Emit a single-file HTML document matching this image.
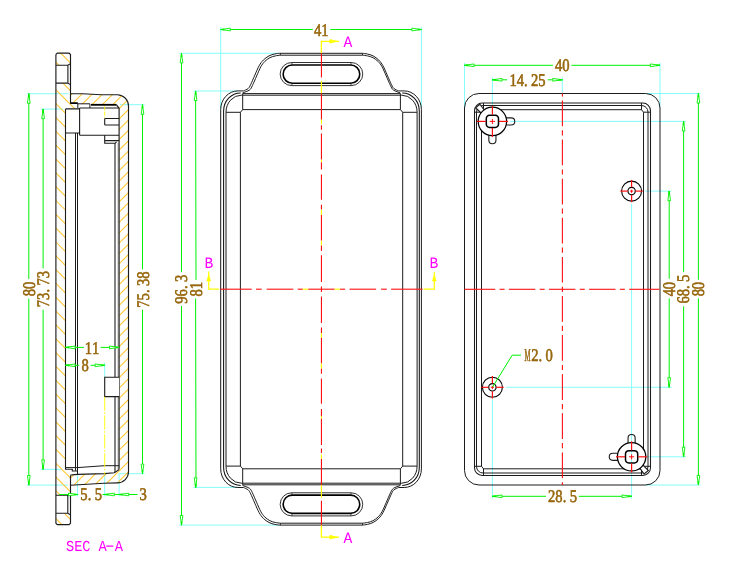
<!DOCTYPE html>
<html><head><meta charset="utf-8"><title>Enclosure drawing</title>
<style>
html,body{margin:0;padding:0;background:#ffffff;}
body{width:750px;height:582px;overflow:hidden;font-family:"Liberation Serif",serif;}
svg{display:block;will-change:transform;}
text{white-space:pre;}
</style></head><body>
<svg width="750" height="582" viewBox="0 0 750 582" shape-rendering="geometricPrecision">
<rect width="750" height="582" fill="#ffffff"/>
<line x1="220.7" y1="27" x2="220.7" y2="109.5" stroke="#86fcfc" stroke-width="1" />
<line x1="421.4" y1="27" x2="421.4" y2="107" stroke="#86fcfc" stroke-width="1" />
<line x1="179" y1="53.3" x2="279" y2="53.3" stroke="#86fcfc" stroke-width="1" />
<line x1="179" y1="525.1" x2="279" y2="525.1" stroke="#86fcfc" stroke-width="1" />
<line x1="193.5" y1="91" x2="238" y2="91" stroke="#86fcfc" stroke-width="1" />
<line x1="193.5" y1="487.4" x2="238" y2="487.4" stroke="#86fcfc" stroke-width="1" />
<g transform="translate(321.05,289.2) scale(1,1) translate(-321.05,-289.2)">
<path d="M220.7,289.2 V109.5 A17.2,18.6 0 0 1 237.9,90.9 H243.5" stroke="#1c1c1c" stroke-width="1" fill="none" />
<path d="M243.5,90.9 C244.28,90.5 247.02,89.53 248.2,88.5 C249.38,87.47 249.5,86.92 250.6,84.7 C251.7,82.48 253.38,78.35 254.8,75.2 C256.22,72.05 257.68,68.32 259.1,65.8 C260.52,63.28 261.65,61.75 263.3,60.1 C264.95,58.45 267.1,56.92 269,55.9 C270.9,54.88 272.93,54.43 274.7,54 C276.47,53.57 278.78,53.42 279.6,53.3 H321.05" stroke="#1c1c1c" stroke-width="1" fill="none" />
</g>
<g transform="translate(321.05,289.2) scale(-1,1) translate(-321.05,-289.2)">
<path d="M220.7,289.2 V109.5 A17.2,18.6 0 0 1 237.9,90.9 H243.5" stroke="#1c1c1c" stroke-width="1" fill="none" />
<path d="M243.5,90.9 C244.28,90.5 247.02,89.53 248.2,88.5 C249.38,87.47 249.5,86.92 250.6,84.7 C251.7,82.48 253.38,78.35 254.8,75.2 C256.22,72.05 257.68,68.32 259.1,65.8 C260.52,63.28 261.65,61.75 263.3,60.1 C264.95,58.45 267.1,56.92 269,55.9 C270.9,54.88 272.93,54.43 274.7,54 C276.47,53.57 278.78,53.42 279.6,53.3 H321.05" stroke="#1c1c1c" stroke-width="1" fill="none" />
</g>
<g transform="translate(321.05,289.2) scale(1,-1) translate(-321.05,-289.2)">
<path d="M220.7,289.2 V109.5 A17.2,18.6 0 0 1 237.9,90.9 H243.5" stroke="#1c1c1c" stroke-width="1" fill="none" />
<path d="M243.5,90.9 C244.28,90.5 247.02,89.53 248.2,88.5 C249.38,87.47 249.5,86.92 250.6,84.7 C251.7,82.48 253.38,78.35 254.8,75.2 C256.22,72.05 257.68,68.32 259.1,65.8 C260.52,63.28 261.65,61.75 263.3,60.1 C264.95,58.45 267.1,56.92 269,55.9 C270.9,54.88 272.93,54.43 274.7,54 C276.47,53.57 278.78,53.42 279.6,53.3 H321.05" stroke="#1c1c1c" stroke-width="1" fill="none" />
</g>
<g transform="translate(321.05,289.2) scale(-1,-1) translate(-321.05,-289.2)">
<path d="M220.7,289.2 V109.5 A17.2,18.6 0 0 1 237.9,90.9 H243.5" stroke="#1c1c1c" stroke-width="1" fill="none" />
<path d="M243.5,90.9 C244.28,90.5 247.02,89.53 248.2,88.5 C249.38,87.47 249.5,86.92 250.6,84.7 C251.7,82.48 253.38,78.35 254.8,75.2 C256.22,72.05 257.68,68.32 259.1,65.8 C260.52,63.28 261.65,61.75 263.3,60.1 C264.95,58.45 267.1,56.92 269,55.9 C270.9,54.88 272.93,54.43 274.7,54 C276.47,53.57 278.78,53.42 279.6,53.3 H321.05" stroke="#1c1c1c" stroke-width="1" fill="none" />
</g>
<g transform="translate(321.45,289.2) scale(1,1) translate(-321.45,-289.2)">
<path d="M223.6,289.2 V111 A17.1,18.1 0 0 1 240.7,92.9" stroke="#111" stroke-width="1.05" fill="none" />
<path d="M242.6,92.9 C243.75,92.42 247.88,91.22 249.52,90.01 C251.15,88.79 251.21,87.92 252.39,85.59 C253.58,83.26 255.22,79.15 256.62,76.02 C258.03,72.89 259.49,69.2 260.84,66.78 C262.19,64.36 263.2,63.03 264.71,61.51 C266.23,59.99 268.2,58.59 269.94,57.66 C271.69,56.73 273.45,56.35 275.18,55.94 C276.9,55.53 279.45,55.32 280.3,55.2 H321.45" stroke="#1c1c1c" stroke-width="1" fill="none" />
<line x1="280.3" y1="53.3" x2="280.3" y2="55.2" stroke="#1c1c1c" stroke-width="1" />
<path d="M321.45,62.5 H291.7 A11.55,11.55 0 0 0 291.7,85.6 H321.45" stroke="#1c1c1c" stroke-width="0.9" fill="none" />
<path d="M321.45,65 H292.3 A9.15,9.15 0 0 0 292.3,83.3 H321.45" stroke="#000" stroke-width="1.6" fill="none" />
<line x1="291.9" y1="62.5" x2="291.9" y2="65" stroke="#1c1c1c" stroke-width="0.8" />
<line x1="291.9" y1="83.3" x2="291.9" y2="85.6" stroke="#1c1c1c" stroke-width="0.8" />
</g>
<g transform="translate(321.45,289.2) scale(-1,1) translate(-321.45,-289.2)">
<path d="M223.6,289.2 V111 A17.1,18.1 0 0 1 240.7,92.9" stroke="#111" stroke-width="1.05" fill="none" />
<path d="M242.6,92.9 C243.75,92.42 247.88,91.22 249.52,90.01 C251.15,88.79 251.21,87.92 252.39,85.59 C253.58,83.26 255.22,79.15 256.62,76.02 C258.03,72.89 259.49,69.2 260.84,66.78 C262.19,64.36 263.2,63.03 264.71,61.51 C266.23,59.99 268.2,58.59 269.94,57.66 C271.69,56.73 273.45,56.35 275.18,55.94 C276.9,55.53 279.45,55.32 280.3,55.2 H321.45" stroke="#1c1c1c" stroke-width="1" fill="none" />
<line x1="280.3" y1="53.3" x2="280.3" y2="55.2" stroke="#1c1c1c" stroke-width="1" />
<path d="M321.45,62.5 H291.7 A11.55,11.55 0 0 0 291.7,85.6 H321.45" stroke="#1c1c1c" stroke-width="0.9" fill="none" />
<path d="M321.45,65 H292.3 A9.15,9.15 0 0 0 292.3,83.3 H321.45" stroke="#000" stroke-width="1.6" fill="none" />
<line x1="291.9" y1="62.5" x2="291.9" y2="65" stroke="#1c1c1c" stroke-width="0.8" />
<line x1="291.9" y1="83.3" x2="291.9" y2="85.6" stroke="#1c1c1c" stroke-width="0.8" />
</g>
<g transform="translate(321.45,289.2) scale(1,-1) translate(-321.45,-289.2)">
<path d="M223.6,289.2 V111 A17.1,18.1 0 0 1 240.7,92.9" stroke="#111" stroke-width="1.05" fill="none" />
<path d="M242.6,92.9 C243.75,92.42 247.88,91.22 249.52,90.01 C251.15,88.79 251.21,87.92 252.39,85.59 C253.58,83.26 255.22,79.15 256.62,76.02 C258.03,72.89 259.49,69.2 260.84,66.78 C262.19,64.36 263.2,63.03 264.71,61.51 C266.23,59.99 268.2,58.59 269.94,57.66 C271.69,56.73 273.45,56.35 275.18,55.94 C276.9,55.53 279.45,55.32 280.3,55.2 H321.45" stroke="#1c1c1c" stroke-width="1" fill="none" />
<line x1="280.3" y1="53.3" x2="280.3" y2="55.2" stroke="#1c1c1c" stroke-width="1" />
<path d="M321.45,62.5 H291.7 A11.55,11.55 0 0 0 291.7,85.6 H321.45" stroke="#1c1c1c" stroke-width="0.9" fill="none" />
<path d="M321.45,65 H292.3 A9.15,9.15 0 0 0 292.3,83.3 H321.45" stroke="#000" stroke-width="1.6" fill="none" />
<line x1="291.9" y1="62.5" x2="291.9" y2="65" stroke="#1c1c1c" stroke-width="0.8" />
<line x1="291.9" y1="83.3" x2="291.9" y2="85.6" stroke="#1c1c1c" stroke-width="0.8" />
</g>
<g transform="translate(321.45,289.2) scale(-1,-1) translate(-321.45,-289.2)">
<path d="M223.6,289.2 V111 A17.1,18.1 0 0 1 240.7,92.9" stroke="#111" stroke-width="1.05" fill="none" />
<path d="M242.6,92.9 C243.75,92.42 247.88,91.22 249.52,90.01 C251.15,88.79 251.21,87.92 252.39,85.59 C253.58,83.26 255.22,79.15 256.62,76.02 C258.03,72.89 259.49,69.2 260.84,66.78 C262.19,64.36 263.2,63.03 264.71,61.51 C266.23,59.99 268.2,58.59 269.94,57.66 C271.69,56.73 273.45,56.35 275.18,55.94 C276.9,55.53 279.45,55.32 280.3,55.2 H321.45" stroke="#1c1c1c" stroke-width="1" fill="none" />
<line x1="280.3" y1="53.3" x2="280.3" y2="55.2" stroke="#1c1c1c" stroke-width="1" />
<path d="M321.45,62.5 H291.7 A11.55,11.55 0 0 0 291.7,85.6 H321.45" stroke="#1c1c1c" stroke-width="0.9" fill="none" />
<path d="M321.45,65 H292.3 A9.15,9.15 0 0 0 292.3,83.3 H321.45" stroke="#000" stroke-width="1.6" fill="none" />
<line x1="291.9" y1="62.5" x2="291.9" y2="65" stroke="#1c1c1c" stroke-width="0.8" />
<line x1="291.9" y1="83.3" x2="291.9" y2="85.6" stroke="#1c1c1c" stroke-width="0.8" />
</g>
<g transform="translate(321.55,289.2) scale(1,1) translate(-321.55,-289.2)">
<path d="M226,289.2 V112.3 A15.3,17.1 0 0 1 241.3,95.2 H321.55" stroke="#1c1c1c" stroke-width="1" fill="none" />
<line x1="242.7" y1="93.6" x2="321.55" y2="93.6" stroke="#1c1c1c" stroke-width="1" />
<path d="M226,112.3 H240.4 V289.2 M240.4,112.3 L242.7,109.6 H321.55 M242.7,93.6 V109.6" stroke="#1c1c1c" stroke-width="1" fill="none" />
</g>
<g transform="translate(321.55,289.2) scale(-1,1) translate(-321.55,-289.2)">
<path d="M226,289.2 V112.3 A15.3,17.1 0 0 1 241.3,95.2 H321.55" stroke="#1c1c1c" stroke-width="1" fill="none" />
<line x1="242.7" y1="93.6" x2="321.55" y2="93.6" stroke="#1c1c1c" stroke-width="1" />
<path d="M226,112.3 H240.4 V289.2 M240.4,112.3 L242.7,109.6 H321.55 M242.7,93.6 V109.6" stroke="#1c1c1c" stroke-width="1" fill="none" />
</g>
<g transform="translate(321.55,289.2) scale(1,-1) translate(-321.55,-289.2)">
<path d="M226,289.2 V112.3 A15.3,17.1 0 0 1 241.3,95.2 H321.55" stroke="#1c1c1c" stroke-width="1" fill="none" />
<line x1="242.7" y1="93.6" x2="321.55" y2="93.6" stroke="#1c1c1c" stroke-width="1" />
<path d="M226,112.3 H240.4 V289.2 M240.4,112.3 L242.7,109.6 H321.55 M242.7,93.6 V109.6" stroke="#1c1c1c" stroke-width="1" fill="none" />
</g>
<g transform="translate(321.55,289.2) scale(-1,-1) translate(-321.55,-289.2)">
<path d="M226,289.2 V112.3 A15.3,17.1 0 0 1 241.3,95.2 H321.55" stroke="#1c1c1c" stroke-width="1" fill="none" />
<line x1="242.7" y1="93.6" x2="321.55" y2="93.6" stroke="#1c1c1c" stroke-width="1" />
<path d="M226,112.3 H240.4 V289.2 M240.4,112.3 L242.7,109.6 H321.55 M242.7,93.6 V109.6" stroke="#1c1c1c" stroke-width="1" fill="none" />
</g>
<line x1="321.45" y1="41.3" x2="321.45" y2="52.9" stroke="#ffff00" stroke-width="1.15" />
<line x1="321.45" y1="537.1" x2="321.45" y2="525.5" stroke="#ffff00" stroke-width="1.15" />
<line x1="321.45" y1="80.8" x2="321.45" y2="93.3" stroke="#ffff00" stroke-width="1.15" />
<line x1="321.45" y1="497.6" x2="321.45" y2="485.1" stroke="#ffff00" stroke-width="1.15" />
<line x1="321.45" y1="119.4" x2="321.45" y2="123.9" stroke="#ffff00" stroke-width="1.15" />
<line x1="321.45" y1="459" x2="321.45" y2="454.5" stroke="#ffff00" stroke-width="1.15" />
<line x1="321.45" y1="159.6" x2="321.45" y2="162.2" stroke="#ffff00" stroke-width="1.15" />
<line x1="321.45" y1="418.8" x2="321.45" y2="416.2" stroke="#ffff00" stroke-width="1.15" />
<line x1="321.45" y1="209.6" x2="321.45" y2="215.1" stroke="#ffff00" stroke-width="1.15" />
<line x1="321.45" y1="368.8" x2="321.45" y2="363.3" stroke="#ffff00" stroke-width="1.15" />
<line x1="321.45" y1="240.6" x2="321.45" y2="245.5" stroke="#ffff00" stroke-width="1.15" />
<line x1="321.45" y1="337.8" x2="321.45" y2="332.9" stroke="#ffff00" stroke-width="1.15" />
<line x1="321.45" y1="52.9" x2="321.45" y2="77.6" stroke="#ff1010" stroke-width="1.1" />
<line x1="321.45" y1="525.5" x2="321.45" y2="500.8" stroke="#ff1010" stroke-width="1.1" />
<line x1="321.45" y1="93.3" x2="321.45" y2="119.4" stroke="#ff1010" stroke-width="1.1" />
<line x1="321.45" y1="485.1" x2="321.45" y2="459" stroke="#ff1010" stroke-width="1.1" />
<line x1="321.45" y1="125.3" x2="321.45" y2="129.8" stroke="#ff1010" stroke-width="1.1" />
<line x1="321.45" y1="453.1" x2="321.45" y2="448.6" stroke="#ff1010" stroke-width="1.1" />
<line x1="321.45" y1="133.5" x2="321.45" y2="159.6" stroke="#ff1010" stroke-width="1.1" />
<line x1="321.45" y1="444.9" x2="321.45" y2="418.8" stroke="#ff1010" stroke-width="1.1" />
<line x1="321.45" y1="162.2" x2="321.45" y2="169.4" stroke="#ff1010" stroke-width="1.1" />
<line x1="321.45" y1="416.2" x2="321.45" y2="409" stroke="#ff1010" stroke-width="1.1" />
<line x1="321.45" y1="174.6" x2="321.45" y2="199.8" stroke="#ff1010" stroke-width="1.1" />
<line x1="321.45" y1="403.8" x2="321.45" y2="378.6" stroke="#ff1010" stroke-width="1.1" />
<line x1="321.45" y1="204.7" x2="321.45" y2="209.6" stroke="#ff1010" stroke-width="1.1" />
<line x1="321.45" y1="373.7" x2="321.45" y2="368.8" stroke="#ff1010" stroke-width="1.1" />
<line x1="321.45" y1="215.1" x2="321.45" y2="240.6" stroke="#ff1010" stroke-width="1.1" />
<line x1="321.45" y1="363.3" x2="321.45" y2="337.8" stroke="#ff1010" stroke-width="1.1" />
<line x1="321.45" y1="245.5" x2="321.45" y2="251" stroke="#ff1010" stroke-width="1.1" />
<line x1="321.45" y1="332.9" x2="321.45" y2="327.4" stroke="#ff1010" stroke-width="1.1" />
<line x1="321.45" y1="255.3" x2="321.45" y2="282" stroke="#ff1010" stroke-width="1.1" />
<line x1="321.45" y1="323.1" x2="321.45" y2="296.4" stroke="#ff1010" stroke-width="1.1" />
<line x1="321.45" y1="286.5" x2="321.45" y2="289.3" stroke="#ff1010" stroke-width="1.1" />
<line x1="321.45" y1="291.9" x2="321.45" y2="289.1" stroke="#ff1010" stroke-width="1.1" />
<line x1="302.7" y1="289.2" x2="308.3" y2="289.2" stroke="#ffff00" stroke-width="1.15" />
<line x1="340.1" y1="289.2" x2="334.5" y2="289.2" stroke="#ffff00" stroke-width="1.15" />
<line x1="220.2" y1="289.2" x2="251.7" y2="289.2" stroke="#ff1010" stroke-width="1.1" />
<line x1="422.6" y1="289.2" x2="391.1" y2="289.2" stroke="#ff1010" stroke-width="1.1" />
<line x1="256" y1="289.2" x2="261.7" y2="289.2" stroke="#ff1010" stroke-width="1.1" />
<line x1="386.8" y1="289.2" x2="381.1" y2="289.2" stroke="#ff1010" stroke-width="1.1" />
<line x1="266.7" y1="289.2" x2="293.3" y2="289.2" stroke="#ff1010" stroke-width="1.1" />
<line x1="376.1" y1="289.2" x2="349.5" y2="289.2" stroke="#ff1010" stroke-width="1.1" />
<line x1="297.7" y1="289.2" x2="302.7" y2="289.2" stroke="#ff1010" stroke-width="1.1" />
<line x1="345.1" y1="289.2" x2="340.1" y2="289.2" stroke="#ff1010" stroke-width="1.1" />
<line x1="308.3" y1="289.2" x2="321.3" y2="289.2" stroke="#ff1010" stroke-width="1.1" />
<line x1="334.5" y1="289.2" x2="321.5" y2="289.2" stroke="#ff1010" stroke-width="1.1" />
<path d="M321.45,53 V41.3 H339" stroke="#ffff00" stroke-width="1.2" fill="none" />
<path d="M329.8,39.4 L337.3,41.3 L329.8,43.2 Z" stroke="#ffff00" stroke-width="0.6" fill="#ffff00" />
<path d="M321.45,525.3 V537.2 H339" stroke="#ffff00" stroke-width="1.2" fill="none" />
<path d="M329.8,535.3 L337.3,537.2 L329.8,539.1 Z" stroke="#ffff00" stroke-width="0.6" fill="#ffff00" />
<path d="M218.8,289.2 H208.7 V271.5" stroke="#ffff00" stroke-width="1.2" fill="none" />
<path d="M206.8,281 L208.7,275 L210.6,281 Z" stroke="#ffff00" stroke-width="0.6" fill="#ffff00" />
<path d="M423.6,289.2 H434.3 V271.9" stroke="#ffff00" stroke-width="1.2" fill="none" />
<path d="M432.4,281 L434.3,275 L436.2,281 Z" stroke="#ffff00" stroke-width="0.6" fill="#ffff00" />
<line x1="220.7" y1="29.5" x2="312.7" y2="29.5" stroke="#00f200" stroke-width="1" />
<line x1="330.3" y1="29.5" x2="421.4" y2="29.5" stroke="#00f200" stroke-width="1" />
<path d="M220.7,29.5 L230.3,30.85 L230.3,28.15 Z" stroke="#00f200" stroke-width="0.9" fill="#fff" stroke-linejoin="round"/>
<path d="M220.7,29.5 L223.96,29.96 L223.96,29.04 Z" stroke="#00f200" stroke-width="0.7" fill="#00f200" />
<path d="M421.4,29.5 L411.8,28.15 L411.8,30.85 Z" stroke="#00f200" stroke-width="0.9" fill="#fff" stroke-linejoin="round"/>
<path d="M421.4,29.5 L418.14,29.04 L418.14,29.96 Z" stroke="#00f200" stroke-width="0.7" fill="#00f200" />
<g transform="translate(321.2,35.7)" font-family="Liberation Serif" font-size="17.8" fill="#96650a" stroke="#96650a" stroke-width="0.6" text-anchor="middle" text-rendering="geometricPrecision">
<text transform="translate(-3.6,0) scale(0.82,1)">4</text>
<text transform="translate(3.6,0) scale(0.82,1)">1</text>
</g>
<line x1="181.5" y1="53.3" x2="181.5" y2="272.2" stroke="#00f200" stroke-width="1" />
<line x1="181.5" y1="306" x2="181.5" y2="525.1" stroke="#00f200" stroke-width="1" />
<path d="M181.5,53.3 L180.15,62.9 L182.85,62.9 Z" stroke="#00f200" stroke-width="0.9" fill="#fff" stroke-linejoin="round"/>
<path d="M181.5,53.3 L181.04,56.56 L181.96,56.56 Z" stroke="#00f200" stroke-width="0.7" fill="#00f200" />
<path d="M181.5,525.1 L182.85,515.5 L180.15,515.5 Z" stroke="#00f200" stroke-width="0.9" fill="#fff" stroke-linejoin="round"/>
<path d="M181.5,525.1 L181.96,521.84 L181.04,521.84 Z" stroke="#00f200" stroke-width="0.7" fill="#00f200" />
<g transform="translate(187.2,289.2) rotate(-90)" font-family="Liberation Serif" font-size="17.8" fill="#96650a" stroke="#96650a" stroke-width="0.6" text-anchor="middle" text-rendering="geometricPrecision">
<text transform="translate(-10.8,0) scale(0.82,1)">9</text>
<text transform="translate(-3.6,0) scale(0.82,1)">6</text>
<text transform="translate(2,0) scale(0.82,1)">.</text>
<text transform="translate(10.8,0) scale(0.82,1)">3</text>
</g>
<line x1="195.6" y1="91" x2="196" y2="280" stroke="#00f200" stroke-width="1" />
<line x1="195.6" y1="298.5" x2="196" y2="487.4" stroke="#00f200" stroke-width="1" />
<path d="M195.6,91 L194.25,100.6 L196.95,100.6 Z" stroke="#00f200" stroke-width="0.9" fill="#fff" stroke-linejoin="round"/>
<path d="M195.6,91 L195.14,94.26 L196.06,94.26 Z" stroke="#00f200" stroke-width="0.7" fill="#00f200" />
<path d="M195.6,487.4 L196.95,477.8 L194.25,477.8 Z" stroke="#00f200" stroke-width="0.9" fill="#fff" stroke-linejoin="round"/>
<path d="M195.6,487.4 L196.06,484.14 L195.14,484.14 Z" stroke="#00f200" stroke-width="0.7" fill="#00f200" />
<g transform="translate(202,289.2) rotate(-90)" font-family="Liberation Serif" font-size="17.8" fill="#96650a" stroke="#96650a" stroke-width="0.6" text-anchor="middle" text-rendering="geometricPrecision">
<text transform="translate(-3.6,0) scale(0.82,1)">8</text>
<text transform="translate(3.6,0) scale(0.82,1)">1</text>
</g>
<g transform="translate(347.9,46.9)" font-family="Liberation Mono" font-size="15.8" fill="#ff00ff" stroke="#ff00ff" stroke-width="0" text-anchor="middle" text-rendering="geometricPrecision">
<text transform="translate(0,0) scale(0.93,1)">A</text>
</g>
<g transform="translate(347.9,542.5)" font-family="Liberation Mono" font-size="15.8" fill="#ff00ff" stroke="#ff00ff" stroke-width="0" text-anchor="middle" text-rendering="geometricPrecision">
<text transform="translate(0,0) scale(0.93,1)">A</text>
</g>
<g transform="translate(209,267.9)" font-family="Liberation Mono" font-size="15.8" fill="#ff00ff" stroke="#ff00ff" stroke-width="0" text-anchor="middle" text-rendering="geometricPrecision">
<text transform="translate(0,0) scale(0.93,1)">B</text>
</g>
<g transform="translate(434,267.9)" font-family="Liberation Mono" font-size="15.8" fill="#ff00ff" stroke="#ff00ff" stroke-width="0" text-anchor="middle" text-rendering="geometricPrecision">
<text transform="translate(0,0) scale(0.93,1)">B</text>
</g>
<line x1="464.5" y1="63" x2="464.5" y2="108.5" stroke="#86fcfc" stroke-width="1" />
<line x1="660" y1="63" x2="660" y2="106.5" stroke="#86fcfc" stroke-width="1" />
<line x1="492.4" y1="77.5" x2="492.4" y2="107" stroke="#86fcfc" stroke-width="1" />
<line x1="562.3" y1="77.5" x2="562.3" y2="93.5" stroke="#86fcfc" stroke-width="1" />
<line x1="492.4" y1="399.3" x2="492.4" y2="498.7" stroke="#86fcfc" stroke-width="1" />
<line x1="631.6" y1="203.9" x2="631.6" y2="498.7" stroke="#86fcfc" stroke-width="1" />
<line x1="510.2" y1="121.4" x2="685.7" y2="121.4" stroke="#86fcfc" stroke-width="1" />
<line x1="645" y1="191.1" x2="671.5" y2="191.1" stroke="#86fcfc" stroke-width="1" />
<line x1="506" y1="387.3" x2="671.5" y2="387.3" stroke="#86fcfc" stroke-width="1" />
<line x1="646" y1="456.8" x2="685.7" y2="456.8" stroke="#86fcfc" stroke-width="1" />
<line x1="645" y1="93.5" x2="700.6" y2="93.5" stroke="#86fcfc" stroke-width="1" />
<line x1="645" y1="485" x2="700.6" y2="485" stroke="#86fcfc" stroke-width="1" />
<rect x="464.5" y="93.5" width="195.5" height="391.5" rx="14.5" ry="14.5" fill="none" stroke="#1c1c1c" stroke-width="1"/>
<rect x="474.5" y="103" width="176" height="372.5" rx="7.7" ry="7.7" fill="none" stroke="#1c1c1c" stroke-width="1.05"/>
<rect x="476.5" y="105.5" width="171.5" height="367.5" rx="6.5" ry="6.5" fill="none" stroke="#1c1c1c" stroke-width="1"/>
<path d="M483.5,109.7 H641.5 M643.5,112.2 V466.3 M641.5,468.8 H483.5 M481.5,466.3 V112.2" stroke="#1c1c1c" stroke-width="1" fill="none" />
<path d="M641.5,109.7 L643.5,112.2 M641.5,109.9 V103 M643.5,112.2 H650.5" stroke="#1c1c1c" stroke-width="1" fill="none" />
<path d="M483.5,109.7 L481.5,112.2 M483.5,109.9 V103 M481.5,112.2 H474.5" stroke="#1c1c1c" stroke-width="1" fill="none" />
<path d="M641.5,468.8 L643.5,466.3 M641.5,468.6 V475.5 M643.5,466.3 H650.5" stroke="#1c1c1c" stroke-width="1" fill="none" />
<path d="M483.5,468.8 L481.5,466.3 M483.5,468.6 V475.5 M481.5,466.3 H474.5" stroke="#1c1c1c" stroke-width="1" fill="none" />
<line x1="562.4" y1="93.5" x2="562.4" y2="96.4" stroke="#ff1010" stroke-width="1.1" />
<line x1="562.4" y1="100.5" x2="562.4" y2="126.2" stroke="#ff1010" stroke-width="1.1" />
<line x1="562.4" y1="130.3" x2="562.4" y2="135.5" stroke="#ff1010" stroke-width="1.1" />
<line x1="562.4" y1="139.6" x2="562.4" y2="165.3" stroke="#ff1010" stroke-width="1.1" />
<line x1="562.4" y1="169.4" x2="562.4" y2="174.6" stroke="#ff1010" stroke-width="1.1" />
<line x1="562.4" y1="178.7" x2="562.4" y2="204.4" stroke="#ff1010" stroke-width="1.1" />
<line x1="562.4" y1="208.5" x2="562.4" y2="213.7" stroke="#ff1010" stroke-width="1.1" />
<line x1="562.4" y1="217.8" x2="562.4" y2="243.5" stroke="#ff1010" stroke-width="1.1" />
<line x1="562.4" y1="247.6" x2="562.4" y2="252.8" stroke="#ff1010" stroke-width="1.1" />
<line x1="562.4" y1="256.9" x2="562.4" y2="282.6" stroke="#ff1010" stroke-width="1.1" />
<line x1="562.4" y1="286.7" x2="562.4" y2="291.9" stroke="#ff1010" stroke-width="1.1" />
<line x1="562.4" y1="296" x2="562.4" y2="321.7" stroke="#ff1010" stroke-width="1.1" />
<line x1="562.4" y1="325.8" x2="562.4" y2="331" stroke="#ff1010" stroke-width="1.1" />
<line x1="562.4" y1="335.1" x2="562.4" y2="360.8" stroke="#ff1010" stroke-width="1.1" />
<line x1="562.4" y1="364.9" x2="562.4" y2="370.1" stroke="#ff1010" stroke-width="1.1" />
<line x1="562.4" y1="374.2" x2="562.4" y2="399.9" stroke="#ff1010" stroke-width="1.1" />
<line x1="562.4" y1="404" x2="562.4" y2="409.2" stroke="#ff1010" stroke-width="1.1" />
<line x1="562.4" y1="413.3" x2="562.4" y2="439" stroke="#ff1010" stroke-width="1.1" />
<line x1="562.4" y1="443.1" x2="562.4" y2="448.3" stroke="#ff1010" stroke-width="1.1" />
<line x1="562.4" y1="452.4" x2="562.4" y2="478.1" stroke="#ff1010" stroke-width="1.1" />
<line x1="562.4" y1="482.2" x2="562.4" y2="485" stroke="#ff1010" stroke-width="1.1" />
<line x1="464.5" y1="289.3" x2="495.2" y2="289.3" stroke="#ff1010" stroke-width="1.1" />
<line x1="499.55" y1="289.3" x2="504.55" y2="289.3" stroke="#ff1010" stroke-width="1.1" />
<line x1="508.9" y1="289.3" x2="535.3" y2="289.3" stroke="#ff1010" stroke-width="1.1" />
<line x1="539.65" y1="289.3" x2="544.65" y2="289.3" stroke="#ff1010" stroke-width="1.1" />
<line x1="549" y1="289.3" x2="575.4" y2="289.3" stroke="#ff1010" stroke-width="1.1" />
<line x1="579.75" y1="289.3" x2="584.75" y2="289.3" stroke="#ff1010" stroke-width="1.1" />
<line x1="589.1" y1="289.3" x2="615.5" y2="289.3" stroke="#ff1010" stroke-width="1.1" />
<line x1="619.85" y1="289.3" x2="624.85" y2="289.3" stroke="#ff1010" stroke-width="1.1" />
<line x1="629.2" y1="289.3" x2="659.4" y2="289.3" stroke="#ff1010" stroke-width="1.1" />
<g transform="translate(492.4,121.4) scale(1,1)">
<path d="M-11.3,-8.4 L-16.8,-13.7 L-12.5,-17.2 L-8.4,-11.6" stroke="#1c1c1c" stroke-width="1.1" fill="#fff" />
<path d="M13.9,-3.55 H18.8 A3.55,3.55 0 0 1 18.8,3.55 H13.9" stroke="#1c1c1c" stroke-width="1.1" fill="none" />
<path d="M-3.55,13.9 V18.8 A3.55,3.55 0 0 0 3.55,18.8 V13.9" stroke="#1c1c1c" stroke-width="1.1" fill="none" />
<circle cx="0" cy="0" r="14.2" fill="#fff" stroke="#000" stroke-width="1.25"/>
<rect x="-6.1" y="-6.1" width="12.2" height="12.2" rx="3.2" ry="3.2" fill="none" stroke="#000" stroke-width="1.5"/>
</g>
<line x1="499" y1="121.4" x2="508" y2="121.4" stroke="#ff1010" stroke-width="1.2" />
<line x1="485.8" y1="121.4" x2="476.8" y2="121.4" stroke="#ff1010" stroke-width="1.2" />
<line x1="492.4" y1="128" x2="492.4" y2="137" stroke="#ff1010" stroke-width="1.2" />
<line x1="492.4" y1="114.8" x2="492.4" y2="105.8" stroke="#ff1010" stroke-width="1.2" />
<line x1="489.8" y1="121.4" x2="495" y2="121.4" stroke="#ff1010" stroke-width="1" />
<line x1="492.4" y1="119" x2="492.4" y2="124" stroke="#ff1010" stroke-width="1" />
<g transform="translate(631.6,456.8) scale(-1,-1)">
<path d="M-11.3,-8.4 L-16.8,-13.7 L-12.5,-17.2 L-8.4,-11.6" stroke="#1c1c1c" stroke-width="1.1" fill="#fff" />
<path d="M13.9,-3.55 H18.8 A3.55,3.55 0 0 1 18.8,3.55 H13.9" stroke="#1c1c1c" stroke-width="1.1" fill="none" />
<path d="M-3.55,13.9 V18.8 A3.55,3.55 0 0 0 3.55,18.8 V13.9" stroke="#1c1c1c" stroke-width="1.1" fill="none" />
<circle cx="0" cy="0" r="14.2" fill="#fff" stroke="#000" stroke-width="1.25"/>
<line x1="0" y1="-5.6" x2="0" y2="5.6" stroke="#86fcfc" stroke-width="1"/>
<rect x="-6.1" y="-6.1" width="12.2" height="12.2" rx="3.2" ry="3.2" fill="none" stroke="#000" stroke-width="1.5"/>
</g>
<line x1="638.2" y1="456.8" x2="647.2" y2="456.8" stroke="#ff1010" stroke-width="1.2" />
<line x1="625" y1="456.8" x2="616" y2="456.8" stroke="#ff1010" stroke-width="1.2" />
<line x1="631.6" y1="463.4" x2="631.6" y2="472.4" stroke="#ff1010" stroke-width="1.2" />
<line x1="631.6" y1="450.2" x2="631.6" y2="441.2" stroke="#ff1010" stroke-width="1.2" />
<line x1="629" y1="456.8" x2="634.2" y2="456.8" stroke="#ff1010" stroke-width="1" />
<line x1="631.6" y1="454.4" x2="631.6" y2="459.4" stroke="#ff1010" stroke-width="1" />
<circle cx="631.6" cy="191.1" r="10" fill="none" stroke="#000" stroke-width="1.1"/>
<circle cx="631.6" cy="191.1" r="3.7" fill="none" stroke="#000" stroke-width="1.15"/>
<line x1="635.5" y1="191.1" x2="642.8" y2="191.1" stroke="#ff1010" stroke-width="1.2" />
<line x1="627.7" y1="191.1" x2="620.4" y2="191.1" stroke="#ff1010" stroke-width="1.2" />
<line x1="631.6" y1="195" x2="631.6" y2="202.3" stroke="#ff1010" stroke-width="1.2" />
<line x1="631.6" y1="187.2" x2="631.6" y2="179.9" stroke="#ff1010" stroke-width="1.2" />
<line x1="630" y1="191.1" x2="633.2" y2="191.1" stroke="#ff1010" stroke-width="1" />
<line x1="631.6" y1="189.7" x2="631.6" y2="192.9" stroke="#ff1010" stroke-width="1" />
<circle cx="492.4" cy="387.3" r="10" fill="none" stroke="#000" stroke-width="1.1"/>
<circle cx="492.4" cy="387.3" r="3.7" fill="none" stroke="#000" stroke-width="1.15"/>
<line x1="496.3" y1="387.3" x2="503.6" y2="387.3" stroke="#ff1010" stroke-width="1.2" />
<line x1="488.5" y1="387.3" x2="481.2" y2="387.3" stroke="#ff1010" stroke-width="1.2" />
<line x1="492.4" y1="391.2" x2="492.4" y2="398.5" stroke="#ff1010" stroke-width="1.2" />
<line x1="492.4" y1="383.4" x2="492.4" y2="376.1" stroke="#ff1010" stroke-width="1.2" />
<line x1="490.8" y1="387.3" x2="494" y2="387.3" stroke="#ff1010" stroke-width="1" />
<line x1="492.4" y1="385.9" x2="492.4" y2="389.1" stroke="#ff1010" stroke-width="1" />
<path d="M492.6,387 L512.2,355.2 H521" stroke="#00f200" stroke-width="1" fill="none" />
<g transform="translate(538.4,360.8)" font-family="Liberation Serif" font-size="17.8" fill="#96650a" stroke="#96650a" stroke-width="0.6" text-anchor="middle" text-rendering="geometricPrecision">
<text transform="translate(-10.8,0) scale(0.38,1)">M</text>
<text transform="translate(-3.6,0) scale(0.82,1)">2</text>
<text transform="translate(2,0) scale(0.82,1)">.</text>
<text transform="translate(10.8,0) scale(0.82,1)">0</text>
</g>
<line x1="464.5" y1="65.3" x2="552.9" y2="65.3" stroke="#00f200" stroke-width="1" />
<line x1="571.5" y1="65.3" x2="660" y2="65.3" stroke="#00f200" stroke-width="1" />
<path d="M464.5,65.3 L474.1,66.65 L474.1,63.95 Z" stroke="#00f200" stroke-width="0.9" fill="#fff" stroke-linejoin="round"/>
<path d="M464.5,65.3 L467.76,65.76 L467.76,64.84 Z" stroke="#00f200" stroke-width="0.7" fill="#00f200" />
<path d="M660,65.3 L650.4,63.95 L650.4,66.65 Z" stroke="#00f200" stroke-width="0.9" fill="#fff" stroke-linejoin="round"/>
<path d="M660,65.3 L656.74,64.84 L656.74,65.76 Z" stroke="#00f200" stroke-width="0.7" fill="#00f200" />
<g transform="translate(562.3,71.4)" font-family="Liberation Serif" font-size="17.8" fill="#96650a" stroke="#96650a" stroke-width="0.6" text-anchor="middle" text-rendering="geometricPrecision">
<text transform="translate(-3.6,0) scale(0.82,1)">4</text>
<text transform="translate(3.6,0) scale(0.82,1)">0</text>
</g>
<line x1="492.4" y1="79.8" x2="507" y2="79.8" stroke="#00f200" stroke-width="1" />
<line x1="547.7" y1="79.8" x2="562.3" y2="79.8" stroke="#00f200" stroke-width="1" />
<path d="M492.4,79.8 L502,81.15 L502,78.45 Z" stroke="#00f200" stroke-width="0.9" fill="#fff" stroke-linejoin="round"/>
<path d="M492.4,79.8 L495.66,80.26 L495.66,79.34 Z" stroke="#00f200" stroke-width="0.7" fill="#00f200" />
<path d="M562.3,79.8 L552.7,78.45 L552.7,81.15 Z" stroke="#00f200" stroke-width="0.9" fill="#fff" stroke-linejoin="round"/>
<path d="M562.3,79.8 L559.04,79.34 L559.04,80.26 Z" stroke="#00f200" stroke-width="0.7" fill="#00f200" />
<g transform="translate(527.5,86.1)" font-family="Liberation Serif" font-size="17.8" fill="#96650a" stroke="#96650a" stroke-width="0.6" text-anchor="middle" text-rendering="geometricPrecision">
<text transform="translate(-14.4,0) scale(0.82,1)">1</text>
<text transform="translate(-7.2,0) scale(0.82,1)">4</text>
<text transform="translate(-1.6,0) scale(0.82,1)">.</text>
<text transform="translate(7.2,0) scale(0.82,1)">2</text>
<text transform="translate(14.4,0) scale(0.82,1)">5</text>
</g>
<line x1="492.4" y1="496.3" x2="546" y2="496.3" stroke="#00f200" stroke-width="1" />
<line x1="578.8" y1="496.3" x2="631.6" y2="496.3" stroke="#00f200" stroke-width="1" />
<path d="M492.4,496.3 L502,497.65 L502,494.95 Z" stroke="#00f200" stroke-width="0.9" fill="#fff" stroke-linejoin="round"/>
<path d="M492.4,496.3 L495.66,496.76 L495.66,495.84 Z" stroke="#00f200" stroke-width="0.7" fill="#00f200" />
<path d="M631.6,496.3 L622,494.95 L622,497.65 Z" stroke="#00f200" stroke-width="0.9" fill="#fff" stroke-linejoin="round"/>
<path d="M631.6,496.3 L628.34,495.84 L628.34,496.76 Z" stroke="#00f200" stroke-width="0.7" fill="#00f200" />
<g transform="translate(562.5,502)" font-family="Liberation Serif" font-size="17.8" fill="#96650a" stroke="#96650a" stroke-width="0.6" text-anchor="middle" text-rendering="geometricPrecision">
<text transform="translate(-10.8,0) scale(0.82,1)">2</text>
<text transform="translate(-3.6,0) scale(0.82,1)">8</text>
<text transform="translate(2,0) scale(0.82,1)">.</text>
<text transform="translate(10.8,0) scale(0.82,1)">5</text>
</g>
<line x1="669.2" y1="191.1" x2="669.2" y2="278.8" stroke="#00f200" stroke-width="1" />
<line x1="669.2" y1="298.3" x2="669.2" y2="387.3" stroke="#00f200" stroke-width="1" />
<path d="M669.2,191.1 L667.85,200.7 L670.55,200.7 Z" stroke="#00f200" stroke-width="0.9" fill="#fff" stroke-linejoin="round"/>
<path d="M669.2,191.1 L668.74,194.36 L669.66,194.36 Z" stroke="#00f200" stroke-width="0.7" fill="#00f200" />
<path d="M669.2,387.3 L670.55,377.7 L667.85,377.7 Z" stroke="#00f200" stroke-width="0.9" fill="#fff" stroke-linejoin="round"/>
<path d="M669.2,387.3 L669.66,384.04 L668.74,384.04 Z" stroke="#00f200" stroke-width="0.7" fill="#00f200" />
<g transform="translate(674.9,289.1) rotate(-90)" font-family="Liberation Serif" font-size="17.8" fill="#96650a" stroke="#96650a" stroke-width="0.6" text-anchor="middle" text-rendering="geometricPrecision">
<text transform="translate(-3.6,0) scale(0.82,1)">4</text>
<text transform="translate(3.6,0) scale(0.82,1)">0</text>
</g>
<line x1="683.6" y1="121.4" x2="683.6" y2="272.1" stroke="#00f200" stroke-width="1" />
<line x1="683.6" y1="306.3" x2="683.6" y2="456.8" stroke="#00f200" stroke-width="1" />
<path d="M683.6,121.4 L682.25,131 L684.95,131 Z" stroke="#00f200" stroke-width="0.9" fill="#fff" stroke-linejoin="round"/>
<path d="M683.6,121.4 L683.14,124.66 L684.06,124.66 Z" stroke="#00f200" stroke-width="0.7" fill="#00f200" />
<path d="M683.6,456.8 L684.95,447.2 L682.25,447.2 Z" stroke="#00f200" stroke-width="0.9" fill="#fff" stroke-linejoin="round"/>
<path d="M683.6,456.8 L684.06,453.54 L683.14,453.54 Z" stroke="#00f200" stroke-width="0.7" fill="#00f200" />
<g transform="translate(689.3,289.1) rotate(-90)" font-family="Liberation Serif" font-size="17.8" fill="#96650a" stroke="#96650a" stroke-width="0.6" text-anchor="middle" text-rendering="geometricPrecision">
<text transform="translate(-10.8,0) scale(0.82,1)">6</text>
<text transform="translate(-3.6,0) scale(0.82,1)">8</text>
<text transform="translate(2,0) scale(0.82,1)">.</text>
<text transform="translate(10.8,0) scale(0.82,1)">5</text>
</g>
<line x1="698.4" y1="93.5" x2="698.4" y2="279.8" stroke="#00f200" stroke-width="1" />
<line x1="698.4" y1="298.3" x2="698.4" y2="485" stroke="#00f200" stroke-width="1" />
<path d="M698.4,93.5 L697.05,103.1 L699.75,103.1 Z" stroke="#00f200" stroke-width="0.9" fill="#fff" stroke-linejoin="round"/>
<path d="M698.4,93.5 L697.94,96.76 L698.86,96.76 Z" stroke="#00f200" stroke-width="0.7" fill="#00f200" />
<path d="M698.4,485 L699.75,475.4 L697.05,475.4 Z" stroke="#00f200" stroke-width="0.9" fill="#fff" stroke-linejoin="round"/>
<path d="M698.4,485 L698.86,481.74 L697.94,481.74 Z" stroke="#00f200" stroke-width="0.7" fill="#00f200" />
<g transform="translate(704.4,289.1) rotate(-90)" font-family="Liberation Serif" font-size="17.8" fill="#96650a" stroke="#96650a" stroke-width="0.6" text-anchor="middle" text-rendering="geometricPrecision">
<text transform="translate(-3.6,0) scale(0.82,1)">8</text>
<text transform="translate(3.6,0) scale(0.82,1)">0</text>
</g>
<line x1="27" y1="93.7" x2="68.5" y2="93.7" stroke="#86fcfc" stroke-width="1" />
<line x1="27" y1="485.1" x2="67.8" y2="485.1" stroke="#86fcfc" stroke-width="1" />
<line x1="41" y1="109.1" x2="63" y2="109.1" stroke="#86fcfc" stroke-width="1" />
<line x1="41" y1="469.4" x2="62" y2="469.4" stroke="#86fcfc" stroke-width="1" />
<line x1="120" y1="104.7" x2="144.5" y2="104.7" stroke="#86fcfc" stroke-width="1" />
<line x1="119.4" y1="473.7" x2="144.5" y2="473.7" stroke="#86fcfc" stroke-width="1" />
<line x1="77.5" y1="473" x2="77.5" y2="496.5" stroke="#86fcfc" stroke-width="1" />
<line x1="104.7" y1="474" x2="104.7" y2="496.5" stroke="#86fcfc" stroke-width="1" />
<line x1="119.1" y1="473" x2="119.1" y2="496.5" stroke="#86fcfc" stroke-width="1" />
<line x1="104.7" y1="362.8" x2="104.7" y2="376.9" stroke="#86fcfc" stroke-width="1" />
<defs>
<clipPath id="cb"><path d="M55.9,54.5 L57.3,53.1 L69.1,53.1 L70.5,54.5 L70.5,103.1 L77.8,103.1 L75.5,108.7 L65.5,108.9 L65.5,469.3 L72.3,469.3 L72.3,471 L77,471 L77,474.4 L70.5,475.7 L70.5,523.2 L69.1,524.6 L57.3,524.6 L55.9,523.2 Z"/></clipPath>
<clipPath id="cc"><path d="M70.5,93.7 L82.5,93.7 L101.3,94.7 L117.4,94.7 A11.4,11.4 0 0 1 128.5,106.1 L128.5,471.8 A11.4,11.1 0 0 1 117.4,482.9 L103.7,483.3 L70.5,485.3 L70.5,475.7 L77.7,474.4 L104.3,473.6 L114.3,472.7 L118.7,470 L119.1,468 L119.1,108.3 L116.5,104.6 L78,104 L78,103.1 L70.5,103.1 Z"/></clipPath>
</defs>
<g clip-path="url(#cb)" stroke="#ffc62e" stroke-width="1.05">
<line x1="50" y1="28.67" x2="85" y2="63.67"/>
<line x1="50" y1="42.5" x2="85" y2="77.5"/>
<line x1="50" y1="56.33" x2="85" y2="91.33"/>
<line x1="50" y1="70.16" x2="85" y2="105.16"/>
<line x1="50" y1="83.99" x2="85" y2="118.99"/>
<line x1="50" y1="97.82" x2="85" y2="132.82"/>
<line x1="50" y1="111.65" x2="85" y2="146.65"/>
<line x1="50" y1="125.48" x2="85" y2="160.48"/>
<line x1="50" y1="139.31" x2="85" y2="174.31"/>
<line x1="50" y1="153.14" x2="85" y2="188.14"/>
<line x1="50" y1="166.97" x2="85" y2="201.97"/>
<line x1="50" y1="180.8" x2="85" y2="215.8"/>
<line x1="50" y1="194.63" x2="85" y2="229.63"/>
<line x1="50" y1="208.46" x2="85" y2="243.46"/>
<line x1="50" y1="222.29" x2="85" y2="257.29"/>
<line x1="50" y1="236.12" x2="85" y2="271.12"/>
<line x1="50" y1="249.95" x2="85" y2="284.95"/>
<line x1="50" y1="263.78" x2="85" y2="298.78"/>
<line x1="50" y1="277.61" x2="85" y2="312.61"/>
<line x1="50" y1="291.44" x2="85" y2="326.44"/>
<line x1="50" y1="305.27" x2="85" y2="340.27"/>
<line x1="50" y1="319.1" x2="85" y2="354.1"/>
<line x1="50" y1="332.93" x2="85" y2="367.93"/>
<line x1="50" y1="346.76" x2="85" y2="381.76"/>
<line x1="50" y1="360.59" x2="85" y2="395.59"/>
<line x1="50" y1="374.42" x2="85" y2="409.42"/>
<line x1="50" y1="388.25" x2="85" y2="423.25"/>
<line x1="50" y1="402.08" x2="85" y2="437.08"/>
<line x1="50" y1="415.91" x2="85" y2="450.91"/>
<line x1="50" y1="429.74" x2="85" y2="464.74"/>
<line x1="50" y1="443.57" x2="85" y2="478.57"/>
<line x1="50" y1="457.4" x2="85" y2="492.4"/>
<line x1="50" y1="471.23" x2="85" y2="506.23"/>
<line x1="50" y1="485.06" x2="85" y2="520.06"/>
<line x1="50" y1="498.89" x2="85" y2="533.89"/>
<line x1="50" y1="512.72" x2="85" y2="547.72"/>
<line x1="50" y1="526.55" x2="85" y2="561.55"/>
</g>
<rect x="56.2" y="65.2" width="14" height="17.9" fill="#fff"/>
<rect x="56.2" y="495.3" width="14" height="18" fill="#fff"/>
<g clip-path="url(#cc)" stroke="#ffc62e" stroke-width="1.05">
<line x1="60" y1="105.65" x2="135" y2="30.65"/>
<line x1="60" y1="116" x2="135" y2="41"/>
<line x1="60" y1="126.35" x2="135" y2="51.35"/>
<line x1="60" y1="136.7" x2="135" y2="61.7"/>
<line x1="60" y1="147.05" x2="135" y2="72.05"/>
<line x1="60" y1="157.4" x2="135" y2="82.4"/>
<line x1="60" y1="167.75" x2="135" y2="92.75"/>
<line x1="60" y1="178.1" x2="135" y2="103.1"/>
<line x1="60" y1="188.45" x2="135" y2="113.45"/>
<line x1="60" y1="198.8" x2="135" y2="123.8"/>
<line x1="60" y1="209.15" x2="135" y2="134.15"/>
<line x1="60" y1="219.5" x2="135" y2="144.5"/>
<line x1="60" y1="229.85" x2="135" y2="154.85"/>
<line x1="60" y1="240.2" x2="135" y2="165.2"/>
<line x1="60" y1="250.55" x2="135" y2="175.55"/>
<line x1="60" y1="260.9" x2="135" y2="185.9"/>
<line x1="60" y1="271.25" x2="135" y2="196.25"/>
<line x1="60" y1="281.6" x2="135" y2="206.6"/>
<line x1="60" y1="291.95" x2="135" y2="216.95"/>
<line x1="60" y1="302.3" x2="135" y2="227.3"/>
<line x1="60" y1="312.65" x2="135" y2="237.65"/>
<line x1="60" y1="323" x2="135" y2="248"/>
<line x1="60" y1="333.35" x2="135" y2="258.35"/>
<line x1="60" y1="343.7" x2="135" y2="268.7"/>
<line x1="60" y1="354.05" x2="135" y2="279.05"/>
<line x1="60" y1="364.4" x2="135" y2="289.4"/>
<line x1="60" y1="374.75" x2="135" y2="299.75"/>
<line x1="60" y1="385.1" x2="135" y2="310.1"/>
<line x1="60" y1="395.45" x2="135" y2="320.45"/>
<line x1="60" y1="405.8" x2="135" y2="330.8"/>
<line x1="60" y1="416.15" x2="135" y2="341.15"/>
<line x1="60" y1="426.5" x2="135" y2="351.5"/>
<line x1="60" y1="436.85" x2="135" y2="361.85"/>
<line x1="60" y1="447.2" x2="135" y2="372.2"/>
<line x1="60" y1="457.55" x2="135" y2="382.55"/>
<line x1="60" y1="467.9" x2="135" y2="392.9"/>
<line x1="60" y1="478.25" x2="135" y2="403.25"/>
<line x1="60" y1="488.6" x2="135" y2="413.6"/>
<line x1="60" y1="498.95" x2="135" y2="423.95"/>
<line x1="60" y1="509.3" x2="135" y2="434.3"/>
<line x1="60" y1="519.65" x2="135" y2="444.65"/>
<line x1="60" y1="530" x2="135" y2="455"/>
<line x1="60" y1="540.35" x2="135" y2="465.35"/>
<line x1="60" y1="550.7" x2="135" y2="475.7"/>
<line x1="60" y1="561.05" x2="135" y2="486.05"/>
<line x1="60" y1="571.4" x2="135" y2="496.4"/>
</g>
<path d="M55.9,54.5 L57.3,53.1 H69.1 L70.5,54.5 V103.1 H77.8 M55.9,54.5 V523.2 L57.3,524.6 H69.1 L70.5,523.2 V475.7" stroke="#1c1c1c" stroke-width="1.15" fill="none" />
<path d="M55.9,65.2 H67.9 V83.1 H55.9 M67.9,65.2 L70.5,63.6 M67.9,83.1 L70.5,84.7" stroke="#1c1c1c" stroke-width="1.1" fill="none" />
<path d="M55.9,495.3 H67.8 V513.3 H55.9 M67.8,495.3 L70.5,493.8 M67.8,513.3 L70.5,514.8" stroke="#1c1c1c" stroke-width="1.1" fill="none" />
<path d="M65.5,108.9 V469.3 H72.3 V471 H77" stroke="#1c1c1c" stroke-width="1.1" fill="none" />
<path d="M70.5,93.7 H82.5 L101.3,94.7 H117.4 A11.4,11.4 0 0 1 128.5,106.1 V471.8 A11.4,11.1 0 0 1 117.4,482.9 L103.7,483.3 L70.5,485.3" stroke="#1c1c1c" stroke-width="1.15" fill="none" />
<path d="M70.5,475.7 Q70.6,474.9 71.8,474.9 L77.7,474.4 L104.3,473.6 L114.3,472.7 L118.7,470 L119.1,468 V108.3 L116.5,104.9 H91" stroke="#1c1c1c" stroke-width="1.15" fill="none" />
<path d="M91,104.7 H116" stroke="#000" stroke-width="1.6" fill="none" />
<path d="M70.5,103.2 H77.8" stroke="#000" stroke-width="1.5" fill="none" />
<path d="M77.8,103.8 H89.9 V108 M77.8,103.8 V108" stroke="#1c1c1c" stroke-width="1" fill="none" />
<path d="M65.5,108.9 H79.6 M65.5,133 H79.6 M79.6,108 V135.3 M79.6,108 H119.1 M79.6,135.3 H119.1" stroke="#1c1c1c" stroke-width="1.1" fill="none" />
<path d="M104.7,118.5 H119.1 M104.7,125 H119.1 M104.7,118.5 V125" stroke="#1c1c1c" stroke-width="1.1" fill="none" />
<path d="M104.7,135.3 V143.3 H115 M104.7,140.6 H119.1 M115,143.3 L116.5,142" stroke="#1c1c1c" stroke-width="1.1" fill="none" />
<path d="M75.5,133 V470.7 M77.5,133 V474.2" stroke="#1c1c1c" stroke-width="1" fill="none" />
<path d="M115,143.3 V472.6" stroke="#1c1c1c" stroke-width="1.1" fill="none" />
<path d="M118.2,143 V470" stroke="#555" stroke-width="0.7" fill="none" />
<path d="M119.1,377.2 H104.7 V396.6 H119.1" stroke="#1c1c1c" stroke-width="1.1" fill="#fff" />
<path d="M65.5,467.6 H77 M77.7,467.6 L104.3,465.7 H119" stroke="#1c1c1c" stroke-width="1" fill="none" />
<line x1="104.7" y1="106.4" x2="104.7" y2="117.8" stroke="#ffff00" stroke-width="0.9" stroke-dasharray="4 1.2"/>
<line x1="104.7" y1="396.8" x2="104.7" y2="474" stroke="#ffff00" stroke-width="0.9" stroke-dasharray="14 1.6 1.6 1.6"/>
<line x1="28.8" y1="93.7" x2="28.8" y2="279" stroke="#00f200" stroke-width="1" />
<line x1="28.8" y1="298.6" x2="28.8" y2="485.1" stroke="#00f200" stroke-width="1" />
<path d="M28.8,93.7 L27.45,103.3 L30.15,103.3 Z" stroke="#00f200" stroke-width="0.9" fill="#fff" stroke-linejoin="round"/>
<path d="M28.8,93.7 L28.34,96.96 L29.26,96.96 Z" stroke="#00f200" stroke-width="0.7" fill="#00f200" />
<path d="M28.8,485.1 L30.15,475.5 L27.45,475.5 Z" stroke="#00f200" stroke-width="0.9" fill="#fff" stroke-linejoin="round"/>
<path d="M28.8,485.1 L29.26,481.84 L28.34,481.84 Z" stroke="#00f200" stroke-width="0.7" fill="#00f200" />
<g transform="translate(34.6,289) rotate(-90)" font-family="Liberation Serif" font-size="17.8" fill="#96650a" stroke="#96650a" stroke-width="0.6" text-anchor="middle" text-rendering="geometricPrecision">
<text transform="translate(-3.6,0) scale(0.82,1)">8</text>
<text transform="translate(3.6,0) scale(0.82,1)">0</text>
</g>
<line x1="43.1" y1="109.1" x2="43.1" y2="268.4" stroke="#00f200" stroke-width="1" />
<line x1="43.1" y1="309.7" x2="43.1" y2="469.4" stroke="#00f200" stroke-width="1" />
<path d="M43.1,109.1 L41.75,118.7 L44.45,118.7 Z" stroke="#00f200" stroke-width="0.9" fill="#fff" stroke-linejoin="round"/>
<path d="M43.1,109.1 L42.64,112.36 L43.56,112.36 Z" stroke="#00f200" stroke-width="0.7" fill="#00f200" />
<path d="M43.1,469.4 L44.45,459.8 L41.75,459.8 Z" stroke="#00f200" stroke-width="0.9" fill="#fff" stroke-linejoin="round"/>
<path d="M43.1,469.4 L43.56,466.14 L42.64,466.14 Z" stroke="#00f200" stroke-width="0.7" fill="#00f200" />
<g transform="translate(48.9,289.1) rotate(-90)" font-family="Liberation Serif" font-size="17.8" fill="#96650a" stroke="#96650a" stroke-width="0.6" text-anchor="middle" text-rendering="geometricPrecision">
<text transform="translate(-14.4,0) scale(0.82,1)">7</text>
<text transform="translate(-7.2,0) scale(0.82,1)">3</text>
<text transform="translate(-1.6,0) scale(0.82,1)">.</text>
<text transform="translate(7.2,0) scale(0.82,1)">7</text>
<text transform="translate(14.4,0) scale(0.82,1)">3</text>
</g>
<line x1="142.5" y1="104.7" x2="142.5" y2="269.3" stroke="#00f200" stroke-width="1" />
<line x1="142.5" y1="309.7" x2="142.5" y2="473.7" stroke="#00f200" stroke-width="1" />
<path d="M142.5,104.7 L141.15,114.3 L143.85,114.3 Z" stroke="#00f200" stroke-width="0.9" fill="#fff" stroke-linejoin="round"/>
<path d="M142.5,104.7 L142.04,107.96 L142.96,107.96 Z" stroke="#00f200" stroke-width="0.7" fill="#00f200" />
<path d="M142.5,473.7 L143.85,464.1 L141.15,464.1 Z" stroke="#00f200" stroke-width="0.9" fill="#fff" stroke-linejoin="round"/>
<path d="M142.5,473.7 L142.96,470.44 L142.04,470.44 Z" stroke="#00f200" stroke-width="0.7" fill="#00f200" />
<g transform="translate(148.7,289.6) rotate(-90)" font-family="Liberation Serif" font-size="17.8" fill="#96650a" stroke="#96650a" stroke-width="0.6" text-anchor="middle" text-rendering="geometricPrecision">
<text transform="translate(-14.4,0) scale(0.82,1)">7</text>
<text transform="translate(-7.2,0) scale(0.82,1)">5</text>
<text transform="translate(-1.6,0) scale(0.82,1)">.</text>
<text transform="translate(7.2,0) scale(0.82,1)">3</text>
<text transform="translate(14.4,0) scale(0.82,1)">8</text>
</g>
<line x1="65.5" y1="347.4" x2="83.9" y2="347.4" stroke="#00f200" stroke-width="1" />
<line x1="100.6" y1="347.4" x2="119.1" y2="347.4" stroke="#00f200" stroke-width="1" />
<path d="M65.5,347.4 L75.1,348.75 L75.1,346.05 Z" stroke="#00f200" stroke-width="0.9" fill="#fff" stroke-linejoin="round"/>
<path d="M65.5,347.4 L68.76,347.86 L68.76,346.94 Z" stroke="#00f200" stroke-width="0.7" fill="#00f200" />
<path d="M119.1,347.4 L109.5,346.05 L109.5,348.75 Z" stroke="#00f200" stroke-width="0.9" fill="#fff" stroke-linejoin="round"/>
<path d="M119.1,347.4 L115.84,346.94 L115.84,347.86 Z" stroke="#00f200" stroke-width="0.7" fill="#00f200" />
<g transform="translate(92.1,353.8)" font-family="Liberation Serif" font-size="17.8" fill="#96650a" stroke="#96650a" stroke-width="0.6" text-anchor="middle" text-rendering="geometricPrecision">
<text transform="translate(-3.6,0) scale(0.82,1)">1</text>
<text transform="translate(3.6,0) scale(0.82,1)">1</text>
</g>
<line x1="65.5" y1="365.3" x2="79.2" y2="365.3" stroke="#00f200" stroke-width="1" />
<line x1="90.6" y1="365.3" x2="104.7" y2="365.3" stroke="#00f200" stroke-width="1" />
<path d="M65.5,365.3 L75.1,366.65 L75.1,363.95 Z" stroke="#00f200" stroke-width="0.9" fill="#fff" stroke-linejoin="round"/>
<path d="M65.5,365.3 L68.76,365.76 L68.76,364.84 Z" stroke="#00f200" stroke-width="0.7" fill="#00f200" />
<path d="M104.7,365.3 L95.1,363.95 L95.1,366.65 Z" stroke="#00f200" stroke-width="0.9" fill="#fff" stroke-linejoin="round"/>
<path d="M104.7,365.3 L101.44,364.84 L101.44,365.76 Z" stroke="#00f200" stroke-width="0.7" fill="#00f200" />
<g transform="translate(85.1,371.3)" font-family="Liberation Serif" font-size="17.8" fill="#96650a" stroke="#96650a" stroke-width="0.6" text-anchor="middle" text-rendering="geometricPrecision">
<text transform="translate(0,0) scale(0.82,1)">8</text>
</g>
<line x1="59.1" y1="494.5" x2="78.3" y2="494.5" stroke="#00f200" stroke-width="1" />
<line x1="102.6" y1="494.5" x2="137.5" y2="494.5" stroke="#00f200" stroke-width="1" />
<path d="M77.5,494.5 L68.5,493.15 L68.5,495.85 Z" stroke="#00f200" stroke-width="0.9" fill="#fff" stroke-linejoin="round"/>
<path d="M77.5,494.5 L74.44,494.04 L74.44,494.96 Z" stroke="#00f200" stroke-width="0.7" fill="#00f200" />
<path d="M104.7,494.5 L114.3,495.85 L114.3,493.15 Z" stroke="#00f200" stroke-width="0.9" fill="#fff" stroke-linejoin="round"/>
<path d="M104.7,494.5 L107.96,494.96 L107.96,494.04 Z" stroke="#00f200" stroke-width="0.7" fill="#00f200" />
<path d="M119.1,494.5 L128.7,495.85 L128.7,493.15 Z" stroke="#00f200" stroke-width="0.9" fill="#fff" stroke-linejoin="round"/>
<path d="M119.1,494.5 L122.36,494.96 L122.36,494.04 Z" stroke="#00f200" stroke-width="0.7" fill="#00f200" />
<g transform="translate(91.1,500.4)" font-family="Liberation Serif" font-size="17.8" fill="#96650a" stroke="#96650a" stroke-width="0.6" text-anchor="middle" text-rendering="geometricPrecision">
<text transform="translate(-7.2,0) scale(0.82,1)">5</text>
<text transform="translate(-1.6,0) scale(0.82,1)">.</text>
<text transform="translate(7.2,0) scale(0.82,1)">5</text>
</g>
<g transform="translate(143.1,500.4)" font-family="Liberation Serif" font-size="17.8" fill="#96650a" stroke="#96650a" stroke-width="0.6" text-anchor="middle" text-rendering="geometricPrecision">
<text transform="translate(0,0) scale(0.82,1)">3</text>
</g>
<g transform="translate(94.5,550.5)" font-family="Liberation Mono" font-size="15.2" fill="#ff00ff" stroke="#ff00ff" stroke-width="0" text-anchor="middle" text-rendering="geometricPrecision">
<text transform="translate(-24.3,0) scale(0.9,1)">S</text>
<text transform="translate(-16.2,0) scale(0.9,1)">E</text>
<text transform="translate(-8.1,0) scale(0.9,1)">C</text>
<text transform="translate(8.1,0) scale(0.9,1)">A</text>
<text transform="translate(24.3,0) scale(0.9,1)">A</text>
</g>
<line x1="106.2" y1="546.1" x2="113.4" y2="546.1" stroke="#ff00ff" stroke-width="1.25" />
</svg>
</body></html>
